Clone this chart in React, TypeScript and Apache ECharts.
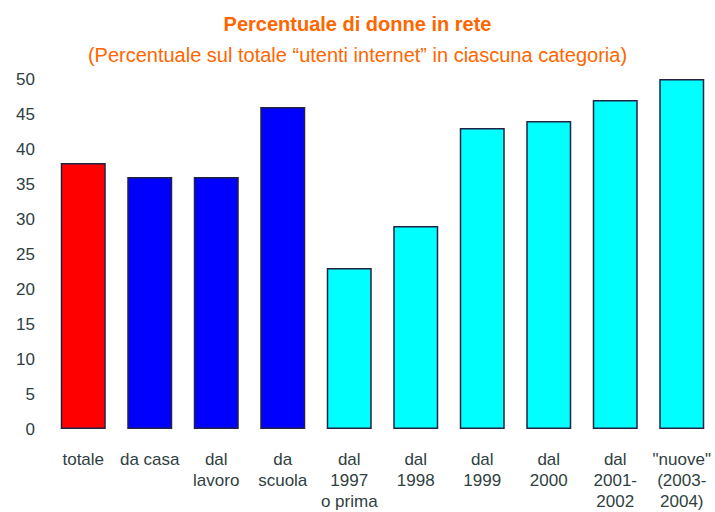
import React, { useEffect, useRef } from "react";
import * as echarts from "echarts";

const categories = [
  "totale",
  "da casa",
  "dal\nlavoro",
  "da\nscuola",
  "dal\n1997\no prima",
  "dal\n1998",
  "dal\n1999",
  "dal\n2000",
  "dal\n2001-\n2002",
  "\"nuove\"\n(2003-\n2004)",
];
const values = [38, 36, 36, 46, 23, 29, 43, 44, 47, 50];
const barColors = ["#FF0000", "#0000FF", "#0000FF", "#0000FF", "#00FFFF", "#00FFFF", "#00FFFF", "#00FFFF", "#00FFFF", "#00FFFF"];

const FONT = "Liberation Sans, Arial, sans-serif";

export default function App() {
  const ref = useRef<HTMLDivElement>(null);
  useEffect(() => {
    const chart = echarts.init(ref.current!, null, { renderer: "svg" });
    chart.setOption({
      animation: false,
      title: [
        {
          text: "Percentuale di donne in rete",
          left: "center",
          top: 9,
          textStyle: { color: "#FF6600", fontSize: 20, fontWeight: "bold", fontFamily: FONT },
        },
        {
          text: "(Percentuale sul totale \u201cutenti internet\u201d in ciascuna categoria)",
          left: "center",
          top: 40,
          textStyle: { color: "#FF6600", fontSize: 20, fontWeight: "normal", fontFamily: FONT },
        },
      ],
      grid: { left: 50, top: 79, width: 668, height: 352, containLabel: false },
      xAxis: {
        type: "category",
        data: categories,
        axisLine: { show: false },
        axisTick: { show: false },
        axisLabel: {
          interval: 0,
          color: "#2F3F3F",
          fontSize: 17,
          lineHeight: 21,
          margin: 20,
          fontFamily: FONT,
        },
      },
      yAxis: {
        type: "value",
        min: 0,
        max: 50,
        interval: 5,
        splitLine: { show: false },
        axisLine: { show: false },
        axisTick: { show: false },
        axisLabel: {
          color: "#2F3F3F",
          fontSize: 17,
          margin: 15,
          fontFamily: FONT,
        },
      },
      series: [
        {
          type: "bar",
          barWidth: 45,
          data: values.map((v, i) => ({
            value: v,
            itemStyle: { color: barColors[i], borderColor: "#222244", borderWidth: 1.5 },
          })),
        },
      ],
    });
    return () => chart.dispose();
  }, []);
  return <div ref={ref} style={{ width: 715, height: 512, position: "absolute", left: 0, top: 0 }} />;
}
